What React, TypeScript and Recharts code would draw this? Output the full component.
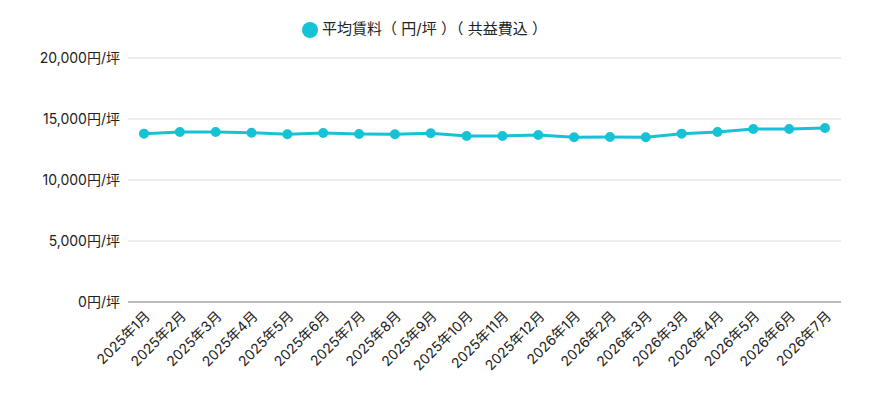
import { LineChart, Line, XAxis, YAxis, CartesianGrid, Legend } from 'recharts';

const months = [
  '2025年1月', '2025年2月', '2025年3月', '2025年4月', '2025年5月', '2025年6月',
  '2025年7月', '2025年8月', '2025年9月', '2025年10月', '2025年11月', '2025年12月',
  '2026年1月', '2026年2月', '2026年3月', '2026年3月', '2026年4月', '2026年5月',
  '2026年6月', '2026年7月',
];
const rent = [
  13800, 13930, 13930, 13880, 13750, 13850, 13770, 13750, 13830, 13610,
  13610, 13690, 13500, 13530, 13500, 13800, 13930, 14180, 14180, 14260,
];
const yTicks = [0, 5000, 10000, 15000, 20000];

const data = months.map((m, i) => ({ month: m, rent: rent[i] }));

export default function App() {
  return (
    <div style={{ fontFamily: 'Inter, "Noto Sans CJK JP", sans-serif' }}>
      <LineChart width={873} height={396} data={data} margin={{ top: 9, right: 40, left: 10, bottom: 0 }}>
        <CartesianGrid stroke="#d9d9d9" vertical={false} />
        <Legend
          verticalAlign="top"
          iconType="circle"
          iconSize={16}
          wrapperStyle={{ fontSize: 15, color: '#222', paddingBottom: 20 }}
          formatter={(v) => <span style={{ color: '#222' }}>{v}</span>}
        />
        <XAxis
          dataKey="month"
          interval={0}
          angle={-45}
          textAnchor="end"
          height={102}
          tick={{ fill: '#222', fontSize: 14 }}
          tickLine={false}
          axisLine={{ stroke: '#888' }}
          padding={{ left: 16, right: 16 }}
        />
        <YAxis
          ticks={yTicks}
          domain={[0, 20000]}
          width={110}
          tick={{ fill: '#222', fontSize: 14 }}
          tickLine={false}
          axisLine={false}
          tickFormatter={(v) => `${v.toLocaleString('en-US')}円/坪`}
        />
        <Line
          type="linear"
          dataKey="rent"
          name="平均賃料（ 円/坪 ）（ 共益費込 ）"
          stroke="#16c2d5"
          strokeWidth={3}
          dot={{ r: 3.5, fill: '#16c2d5', stroke: '#16c2d5' }}
          isAnimationActive={false}
        />
      </LineChart>
    </div>
  );
}
